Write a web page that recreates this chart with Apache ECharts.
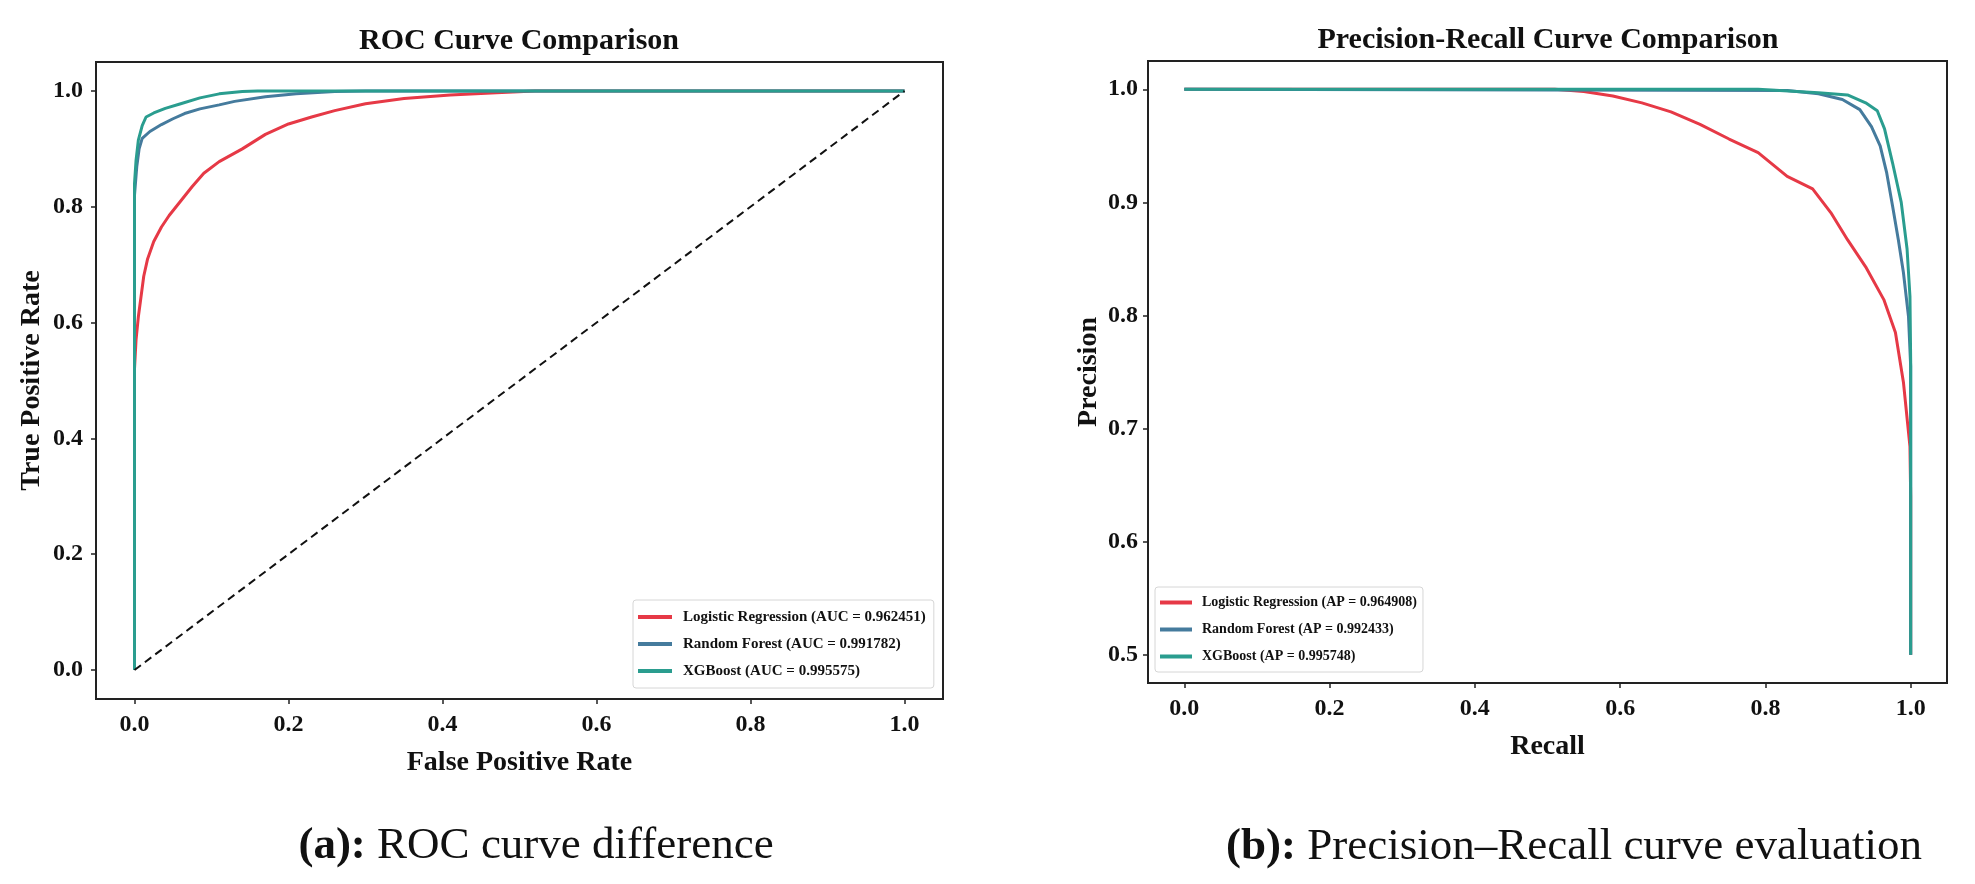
<!DOCTYPE html>
<html>
<head>
<meta charset="utf-8">
<script src="https://cdn.jsdelivr.net/npm/echarts@6/dist/echarts.min.js"></script>
<style>
html, body { margin: 0; padding: 0; background: #fff; }
#chart { width: 1975px; height: 884px; }
</style>
</head>
<body>
<div id="chart"></div>
<script>
var modelNames = ['Logistic Regression', 'Random Forest', 'XGBoost'];
var aucValues = ['0.962451', '0.991782', '0.995575'];
var apValues = ['0.964908', '0.992433', '0.995748'];
var colors = ['#e63946', '#457b9d', '#2a9d8f'];
var rocTicks = [0, 0.2, 0.4, 0.6, 0.8, 1.0];
var prTicksX = [0, 0.2, 0.4, 0.6, 0.8, 1.0];
var prTicksY = [0.5, 0.6, 0.7, 0.8, 0.9, 1.0];

// ROC curves, [fpr, tpr]
var rocLR = [[0, 0], [0, 0.52], [0.002, 0.57], [0.005, 0.61], [0.008, 0.64], [0.012, 0.68], [0.017, 0.71],
    [0.025, 0.74], [0.035, 0.765], [0.045, 0.785], [0.06, 0.81], [0.075, 0.835], [0.09, 0.858],
    [0.11, 0.878], [0.14, 0.9], [0.17, 0.925], [0.2, 0.943], [0.23, 0.955], [0.26, 0.966],
    [0.3, 0.978], [0.35, 0.987], [0.41, 0.993], [0.47, 0.997], [0.52, 1.0], [1, 1]];
var rocRF = [[0, 0], [0, 0.82], [0.003, 0.87], [0.006, 0.9], [0.01, 0.918], [0.02, 0.93], [0.035, 0.942],
    [0.05, 0.952], [0.065, 0.961], [0.085, 0.969], [0.11, 0.976], [0.13, 0.982], [0.17, 0.99],
    [0.21, 0.995], [0.26, 0.999], [0.3, 1.0], [1, 1]];
var rocXGB = [[0, 0], [0, 0.84], [0.002, 0.88], [0.005, 0.915], [0.01, 0.94], [0.015, 0.955], [0.025, 0.962],
    [0.04, 0.97], [0.06, 0.978], [0.085, 0.988], [0.11, 0.995], [0.14, 0.999], [0.16, 1.0], [1, 1]];
var chanceLine = [[0, 0], [1, 1]];

// PR curves, [recall, precision]
var prLR = [[0, 1.0], [0.51, 1.0], [0.55, 0.998], [0.59, 0.994], [0.63, 0.988], [0.67, 0.98], [0.71, 0.969],
    [0.75, 0.956], [0.79, 0.944], [0.83, 0.923], [0.865, 0.912], [0.89, 0.891], [0.913, 0.867],
    [0.938, 0.843], [0.963, 0.814], [0.979, 0.785], [0.99, 0.741], [0.999, 0.684], [1.0, 0.64], [1.0, 0.5]];
var prRF = [[0, 1.0], [0.83, 0.999], [0.873, 0.996], [0.906, 0.991], [0.93, 0.982], [0.946, 0.967],
    [0.958, 0.95], [0.967, 0.926], [0.975, 0.897], [0.983, 0.867], [0.99, 0.838], [0.997, 0.799],
    [1.0, 0.755], [1.0, 0.5]];
var prXGB = [[0, 1.0], [0.79, 1.0], [0.873, 0.997], [0.913, 0.995], [0.938, 0.988], [0.954, 0.981],
    [0.964, 0.965], [0.975, 0.935], [0.987, 0.9], [0.995, 0.859], [0.999, 0.817], [1.0, 0.76], [1.0, 0.5]];

var rocCurves = [rocLR, rocRF, rocXGB];
var prCurves = [prLR, prRF, prXGB];

var serif = '"Liberation Serif", "Times New Roman", serif';
var chartDom = document.getElementById('chart');
var myChart = echarts.init(chartDom);

function makeAxis(gridIndex, min, max, ticks, name, nameGap, labelMargin) {
    return {
        type: 'value',
        gridIndex: gridIndex,
        min: min,
        max: max,
        name: name,
        nameLocation: 'middle',
        nameGap: nameGap,
        nameTextStyle: { fontFamily: serif, fontWeight: 'bold', fontSize: 28, color: '#111' },
        axisLine: { show: true, onZero: false, lineStyle: { color: '#222', width: 2 } },
        splitLine: { show: false },
        axisTick: { show: true, inside: false, length: 5, customValues: ticks, lineStyle: { color: '#222', width: 1.5 } },
        axisLabel: {
            customValues: ticks,
            margin: labelMargin,
            fontFamily: serif,
            fontWeight: 'bold',
            fontSize: 24,
            color: '#111',
            formatter: function (v) { return v.toFixed(1); }
        }
    };
}

var rocNames = modelNames.map(function (m, i) { return m + ' (AUC = ' + aucValues[i] + ')'; });
var prNames = modelNames.map(function (m, i) { return m + ' (AP = ' + apValues[i] + ')'; });

var series = [];
rocCurves.forEach(function (d, i) {
    series.push({
        name: rocNames[i], type: 'line', xAxisIndex: 0, yAxisIndex: 0,
        data: d, showSymbol: false, symbol: 'none', color: colors[i],
        lineStyle: { width: 3, color: colors[i] }
    });
});
series.push({
    name: 'Chance', type: 'line', xAxisIndex: 0, yAxisIndex: 0,
    data: chanceLine, showSymbol: false, symbol: 'none',
    lineStyle: { width: 2, color: '#111', type: [8, 5] }
});
prCurves.forEach(function (d, i) {
    series.push({
        name: prNames[i], type: 'line', xAxisIndex: 1, yAxisIndex: 1,
        data: d, showSymbol: false, symbol: 'none', color: colors[i],
        lineStyle: { width: 3, color: colors[i] }
    });
});

var legendBase = {
    orient: 'vertical',
    icon: 'rect',
    itemHeight: 4,
    backgroundColor: 'rgba(255,255,255,0.9)',
    borderColor: '#d6d6d6',
    borderWidth: 1,
    borderRadius: 3
};

var option = {
    backgroundColor: '#fff',
    animation: false,
    grid: [
        { left: 96, top: 62, width: 847, height: 637, show: true, borderColor: '#222', borderWidth: 2, backgroundColor: 'transparent' },
        { left: 1148, top: 61, width: 799, height: 622, show: true, borderColor: '#222', borderWidth: 2, backgroundColor: 'transparent' }
    ],
    xAxis: [
        makeAxis(0, -0.05, 1.05, rocTicks, 'False Positive Rate', 50, 14),
        makeAxis(1, -0.05, 1.05, prTicksX, 'Recall', 50, 14)
    ],
    yAxis: [
        makeAxis(0, -0.05, 1.05, rocTicks, 'True Positive Rate', 50, 13),
        makeAxis(1, 0.475, 1.025, prTicksY, 'Precision', 45, 10)
    ],
    legend: [
        Object.assign({}, legendBase, {
            data: rocNames, left: 633, top: 600, itemWidth: 34, itemGap: 11,
            padding: [9, 8, 9, 5],
            textStyle: { fontFamily: serif, fontWeight: 'bold', fontSize: 15, color: '#111', lineHeight: 16, padding: [0, 0, 0, 6] }
        }),
        Object.assign({}, legendBase, {
            data: prNames, left: 1155, top: 587, itemWidth: 32, itemGap: 12,
            padding: [8, 6, 8, 5],
            textStyle: { fontFamily: serif, fontWeight: 'bold', fontSize: 14, color: '#111', lineHeight: 15, padding: [0, 0, 0, 5] }
        })
    ],
    graphic: [
        { type: 'text', x: 519, y: 41, style: { text: 'ROC Curve Comparison', font: 'bold 30px ' + serif, fill: '#111', align: 'center', verticalAlign: 'middle' } },
        { type: 'text', x: 1548, y: 40, style: { text: 'Precision-Recall Curve Comparison', font: 'bold 30px ' + serif, fill: '#111', align: 'center', verticalAlign: 'middle' } },
        { type: 'text', x: 536, y: 846, style: {
            text: '{b|(a):} ROC curve difference', font: '45px ' + serif, fill: '#111', align: 'center', verticalAlign: 'middle',
            rich: { b: { fontWeight: 'bold', fontFamily: serif, fontSize: 45, fill: '#111' } } } },
        { type: 'text', x: 1574, y: 847, style: {
            text: '{b|(b):} Precision\u2013Recall curve evaluation', font: '45px ' + serif, fill: '#111', align: 'center', verticalAlign: 'middle',
            rich: { b: { fontWeight: 'bold', fontFamily: serif, fontSize: 45, fill: '#111' } } } }
    ],
    series: series
};

option && myChart.setOption(option);
</script>
</body>
</html>
